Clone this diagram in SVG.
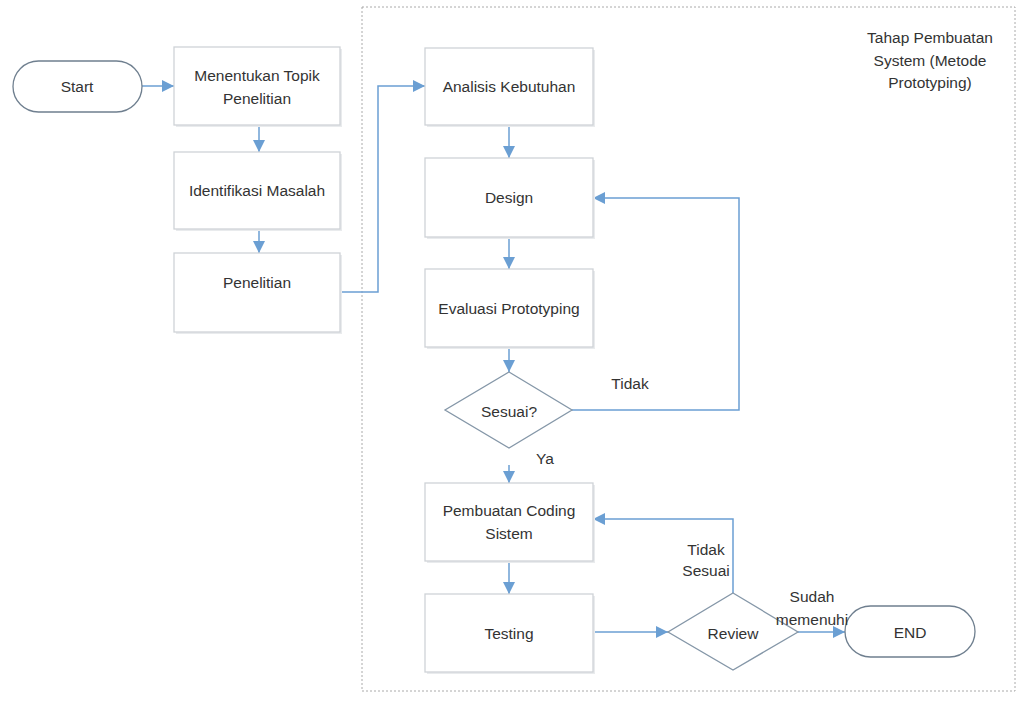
<svg xmlns="http://www.w3.org/2000/svg" width="1019" height="702" viewBox="0 0 1019 702">
<defs>
<style>
.box{fill:#fff;stroke:#cfd3d7;stroke-width:1.3}
.sh{fill:#e9ebed}
.pill{fill:#fff;stroke:#6f7f8f;stroke-width:1.3}
.dia{fill:#fff;stroke:#8597a8;stroke-width:1.3}
.con{fill:none;stroke:#6b9fd3;stroke-width:1.5}
.t{font-family:"Liberation Sans",Arial,sans-serif;font-size:15.5px;fill:#333;text-anchor:middle;dominant-baseline:central}
.frame{fill:none;stroke:#aaa;stroke-width:1;stroke-dasharray:2,2}
</style>
<marker id="ab" viewBox="0 0 10 10" refX="10" refY="5" markerWidth="12" markerHeight="12" markerUnits="userSpaceOnUse" orient="auto">
<path d="M0,0 L10,5 L0,10 z" fill="#6b9fd3"/>
</marker>
</defs>
<rect width="1019" height="702" fill="#fff"/>
<rect id="frame" class="frame" x="362" y="7" width="653" height="684"/>
<text class="t" x="930" y="37">Tahap Pembuatan</text>
<text class="t" x="930" y="60">System (Metode</text>
<text class="t" x="930" y="82">Prototyping)</text>

<g id="connectors">
<path class="con" d="M142,86 L174,86" marker-end="url(#ab)"/>
<path class="con" d="M259,125 L259,152" marker-end="url(#ab)"/>
<path class="con" d="M259,229 L259,253" marker-end="url(#ab)"/>
<path class="con" d="M340,292 L378,292 L378,86 L425,86" marker-end="url(#ab)"/>
<path class="con" d="M509,125 L509,158" marker-end="url(#ab)"/>
<path class="con" d="M509,237 L509,269" marker-end="url(#ab)"/>
<path class="con" d="M509,347 L509,372" marker-end="url(#ab)"/>
<path class="con" d="M572,410 L739,410 L739,198 L593,198" marker-end="url(#ab)"/>
<path class="con" d="M509,465 L509,483" marker-end="url(#ab)"/>
<path class="con" d="M509,561 L509,594" marker-end="url(#ab)"/>
<path class="con" d="M593,632 L668,632" marker-end="url(#ab)"/>
<path class="con" d="M733,593 L733,519 L593,519" marker-end="url(#ab)"/>
<path class="con" d="M798,632 L845,632" marker-end="url(#ab)"/>
</g>

<g id="start"><rect class="pill" x="13" y="61" width="129" height="51" rx="25.5"/><text class="t" x="77" y="86">Start</text></g>
<g id="topik"><rect class="sh" x="176" y="49" width="166" height="78"/><rect class="box" x="174" y="47" width="166" height="78"/><text class="t" x="257" y="75">Menentukan Topik</text><text class="t" x="257" y="98">Penelitian</text></g>
<g id="identifikasi"><rect class="sh" x="176" y="154" width="166" height="77"/><rect class="box" x="174" y="152" width="166" height="77"/><text class="t" x="257" y="190">Identifikasi Masalah</text></g>
<g id="penelitian"><rect class="sh" x="176" y="255" width="166" height="79"/><rect class="box" x="174" y="253" width="166" height="79"/><text class="t" x="257" y="282">Penelitian</text></g>
<g id="analisis"><rect class="sh" x="427" y="50" width="168" height="77"/><rect class="box" x="425" y="48" width="168" height="77"/><text class="t" x="509" y="86">Analisis Kebutuhan</text></g>
<g id="design"><rect class="sh" x="427" y="160" width="168" height="79"/><rect class="box" x="425" y="158" width="168" height="79"/><text class="t" x="509" y="197">Design</text></g>
<g id="evaluasi"><rect class="sh" x="427" y="271" width="168" height="78"/><rect class="box" x="425" y="269" width="168" height="78"/><text class="t" x="509" y="308">Evaluasi Prototyping</text></g>
<g id="sesuai"><polygon class="dia" points="509,372 572,410 509,448 445,410"/><text class="t" x="509" y="411">Sesuai?</text></g>
<g id="coding"><rect class="sh" x="427" y="485" width="168" height="78"/><rect class="box" x="425" y="483" width="168" height="78"/><text class="t" x="509" y="510">Pembuatan Coding</text><text class="t" x="509" y="533">Sistem</text></g>
<g id="testing"><rect class="sh" x="427" y="596" width="168" height="78"/><rect class="box" x="425" y="594" width="168" height="78"/><text class="t" x="509" y="633">Testing</text></g>
<g id="review"><polygon class="dia" points="733,593 798,632 733,670 668,632"/><text class="t" x="733" y="633">Review</text></g>
<g id="end"><rect class="pill" x="845" y="606" width="130" height="51" rx="25.5"/><text class="t" x="910" y="632">END</text></g>

<g id="connector-labels">
<text class="t" x="630" y="383">Tidak</text>
<text class="t" x="545" y="458">Ya</text>
<text class="t" x="706" y="549">Tidak</text>
<text class="t" x="706" y="570">Sesuai</text>
<text class="t" x="812" y="596">Sudah</text>
<text class="t" x="812" y="619">memenuhi</text>
</g>
</svg>
